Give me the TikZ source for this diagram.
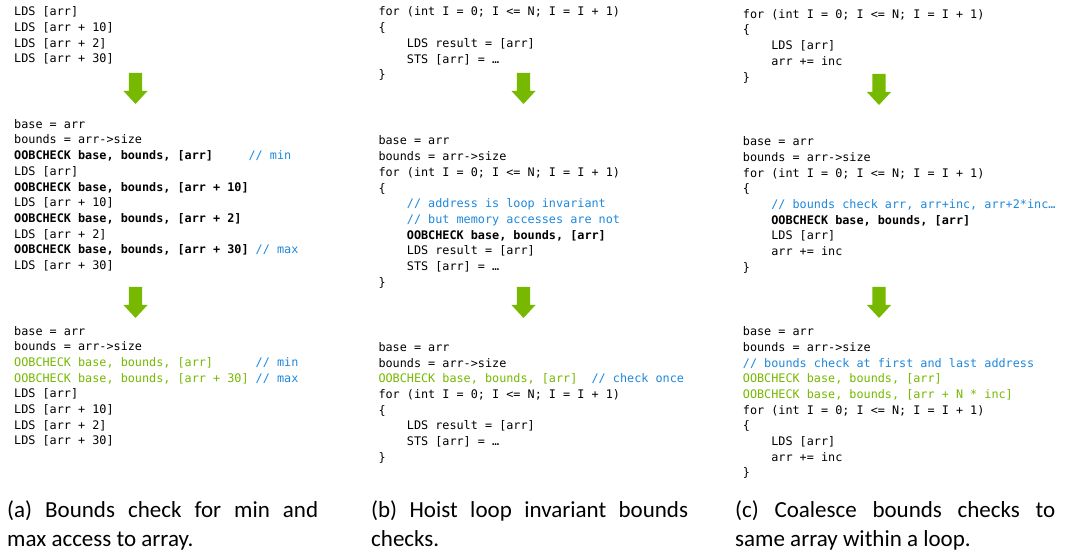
\documentclass[tikz,border=0pt]{standalone}
\usepackage{fontspec}
\newfontfamily\codefont{DejaVu Sans Mono}
\newfontfamily\capfont{Carlito}
\definecolor{nvgreen}{RGB}{118,185,0}
\definecolor{cmtblue}{RGB}{30,136,220}
\newcommand{\cmt}[1]{\textcolor{cmtblue}{#1}}
\newcommand{\grn}[1]{\textcolor{nvgreen}{#1}}
\newcommand{\ind}{\phantom{xxxx}}
\newcommand{\flowarrow}[2]{%
  \fill[bigarrow] (#1-6.7,#2) -- (#1+6.7,#2) -- (#1+6.7,#2+18) -- (#1+12,#2+18)
    -- (#1,#2+31) -- (#1-12,#2+18) -- (#1-6.7,#2+18) -- cycle;}
\tikzset{
  code/.style={anchor=base west, inner sep=0pt, font=\codefont\fontsize{11.8}{15.7}\selectfont\frenchspacing},
  captext/.style={anchor=base west, inner sep=0pt, font=\capfont\fontsize{23}{29}\selectfont},
  bigarrow/.style={fill=nvgreen}
}
\begin{document}
\begin{tikzpicture}[x=1pt,y=-1pt]
\useasboundingbox[fill=white] (0,0) rectangle (1069,556);

% ---------------- column (a)
\node[code] (a1) at (14,15.7) {\begin{tabular}[t]{@{}l@{}}
LDS [arr]\\
LDS [arr + 10]\\
LDS [arr + 2]\\
LDS [arr + 30]
\end{tabular}};
\node[code] (a2) at (14,128.3) {\begin{tabular}[t]{@{}l@{}}
base = arr\\
bounds = arr->size\\
\textbf{OOBCHECK base, bounds, [arr]}\phantom{xxxxx}\cmt{// min}\\
LDS [arr]\\
\textbf{OOBCHECK base, bounds, [arr + 10]}\\
LDS [arr + 10]\\
\textbf{OOBCHECK base, bounds, [arr + 2]}\\
LDS [arr + 2]\\
\textbf{OOBCHECK base, bounds, [arr + 30]}\phantom{x}\cmt{// max}\\
LDS [arr + 30]
\end{tabular}};
\node[code] (a3) at (14,335) {\begin{tabular}[t]{@{}l@{}}
base = arr\\
bounds = arr->size\\
\grn{OOBCHECK base, bounds, [arr]}\phantom{xxxxxx}\cmt{// min}\\
\grn{OOBCHECK base, bounds, [arr + 30]}\phantom{x}\cmt{// max}\\
LDS [arr]\\
LDS [arr + 10]\\
LDS [arr + 2]\\
LDS [arr + 30]
\end{tabular}};
\flowarrow{135.5}{73}
\flowarrow{135.5}{287}

% ---------------- column (b)
\node[code] (b1) at (378.3,16) {\begin{tabular}[t]{@{}l@{}}
for (int I = 0; I <= N; I = I + 1)\\
\{\\
\ind LDS result = [arr]\\
\ind STS [arr] = …\\
\}
\end{tabular}};
\node[code] (b2) at (378.3,145) {\begin{tabular}[t]{@{}l@{}}
base = arr\\
bounds = arr->size\\
for (int I = 0; I <= N; I = I + 1)\\
\{\\
\ind\cmt{// address is loop invariant}\\
\ind\cmt{// but memory accesses are not}\\
\ind\textbf{OOBCHECK base, bounds, [arr]}\\
\ind LDS result = [arr]\\
\ind STS [arr] = …\\
\}
\end{tabular}};
\node[code] (b3) at (378.3,351.5) {\begin{tabular}[t]{@{}l@{}}
base = arr\\
bounds = arr->size\\
\grn{OOBCHECK base, bounds, [arr]}\phantom{xx}\cmt{// check once}\\
for (int I = 0; I <= N; I = I + 1)\\
\{\\
\ind LDS result = [arr]\\
\ind STS [arr] = …\\
\}
\end{tabular}};
\flowarrow{523.5}{73}
\flowarrow{523.5}{287}

% ---------------- column (c)
\node[code] (c1) at (742.7,18.3) {\begin{tabular}[t]{@{}l@{}}
for (int I = 0; I <= N; I = I + 1)\\
\{\\
\ind LDS [arr]\\
\ind arr += inc\\
\}
\end{tabular}};
\node[code] (c2) at (742.7,145.7) {\begin{tabular}[t]{@{}l@{}}
base = arr\\
bounds = arr->size\\
for (int I = 0; I <= N; I = I + 1)\\
\{\\
\ind\cmt{// bounds check arr, arr+inc, arr+2*inc…}\\
\ind\textbf{OOBCHECK base, bounds, [arr]}\\
\ind LDS [arr]\\
\ind arr += inc\\
\}
\end{tabular}};
\node[code] (c3) at (742.7,335.7) {\begin{tabular}[t]{@{}l@{}}
base = arr\\
bounds = arr->size\\
\cmt{// bounds check at first and last address}\\
\grn{OOBCHECK base, bounds, [arr]}\\
\grn{OOBCHECK base, bounds, [arr + N * inc]}\\
for (int I = 0; I <= N; I = I + 1)\\
\{\\
\ind LDS [arr]\\
\ind arr += inc\\
\}
\end{tabular}};
\flowarrow{879}{74}
\flowarrow{879}{287}

% ---------------- captions
\node[captext] (capa) at (7,517.5) {\begin{tabular}[t]{@{}l@{}}
\makebox[311pt][s]{(a) Bounds check for min and}\\
max access to array.
\end{tabular}};
\node[captext] (capb) at (371,517.5) {\begin{tabular}[t]{@{}l@{}}
\makebox[317pt][s]{(b) Hoist loop invariant bounds}\\
checks.
\end{tabular}};
\node[captext] (capc) at (735,517.5) {\begin{tabular}[t]{@{}l@{}}
\makebox[320pt][s]{(c) Coalesce bounds checks to}\\
same array within a loop.
\end{tabular}};
\end{tikzpicture}
\end{document}
